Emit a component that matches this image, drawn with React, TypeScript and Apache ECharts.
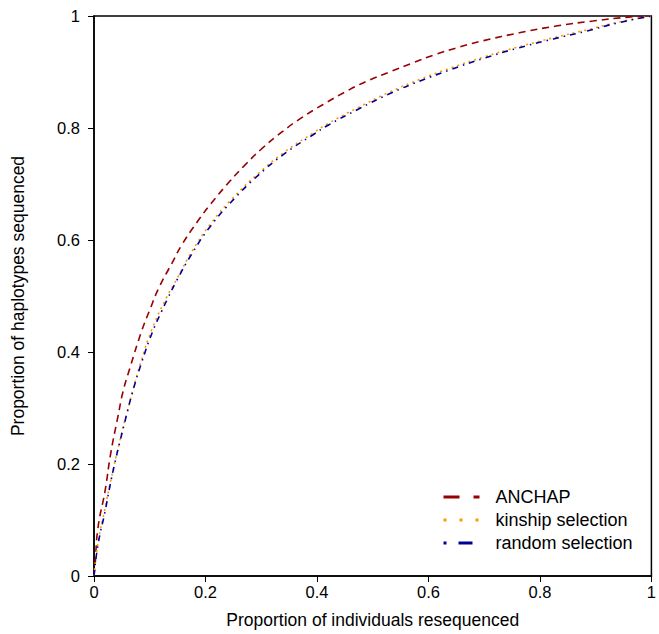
import React, { useEffect, useRef } from "react";
import * as echarts from "echarts";

const seriesNames = ["ANCHAP", "kinship selection", "random selection"];

const anchap: [number, number][] = [
  [0, 0], [0.002, 0.02], [0.007, 0.085], [0.02, 0.153], [0.03, 0.219], [0.043, 0.285],
  [0.052, 0.329], [0.064, 0.37], [0.085, 0.436], [0.1, 0.475], [0.117, 0.516],
  [0.139, 0.557], [0.158, 0.592], [0.185, 0.632], [0.21, 0.665], [0.242, 0.703],
  [0.269, 0.732], [0.301, 0.763], [0.336, 0.792], [0.372, 0.818], [0.411, 0.842],
  [0.45, 0.864], [0.488, 0.883], [0.53, 0.9], [0.571, 0.916], [0.612, 0.931],
  [0.657, 0.945], [0.699, 0.956], [0.763, 0.97], [0.829, 0.982], [0.895, 0.991],
  [0.959, 0.998], [1, 1],
];

const kinship: [number, number][] = [
  [0, 0], [0.007, 0.058], [0.02, 0.122], [0.03, 0.17], [0.045, 0.236], [0.06, 0.295],
  [0.085, 0.385], [0.105, 0.443], [0.13, 0.497], [0.15, 0.533], [0.176, 0.58],
  [0.21, 0.63], [0.25, 0.676], [0.295, 0.719], [0.343, 0.758], [0.393, 0.791],
  [0.42, 0.808], [0.473, 0.836], [0.53, 0.864], [0.585, 0.887], [0.642, 0.908],
  [0.7, 0.927], [0.758, 0.944], [0.824, 0.961], [0.883, 0.975], [0.941, 0.989], [1, 1],
];

const random: [number, number][] = [
  [0, 0], [0.007, 0.055], [0.02, 0.116], [0.028, 0.158], [0.037, 0.2], [0.046, 0.238],
  [0.059, 0.29], [0.069, 0.328], [0.085, 0.38], [0.105, 0.436], [0.121, 0.472],
  [0.132, 0.495], [0.148, 0.527], [0.176, 0.576], [0.21, 0.626], [0.251, 0.673],
  [0.295, 0.716], [0.343, 0.755], [0.393, 0.788], [0.42, 0.805], [0.473, 0.833],
  [0.53, 0.861], [0.585, 0.884], [0.642, 0.905], [0.701, 0.925], [0.758, 0.942],
  [0.824, 0.959], [0.883, 0.973], [0.941, 0.988], [1, 1],
];

const xTicks = [0, 0.2, 0.4, 0.6, 0.8, 1];
const yTicks = [0, 0.2, 0.4, 0.6, 0.8, 1];

const FONT = "Liberation Sans, Arial, sans-serif";
const RED = "#990000";
const ORANGE = "#FF9900";
const BLUE = "#000099";

export default function App() {
  const ref = useRef<HTMLDivElement>(null);
  useEffect(() => {
    if (!ref.current) return;
    const chart = echarts.init(ref.current, undefined, { renderer: "svg" });
    const fmt = (v: number) => String(Number(v.toFixed(1)));
    const hidden = { color: "transparent", opacity: 0, borderWidth: 0 };
    chart.setOption({
      animation: false,
      backgroundColor: "#fff",
      grid: {
        left: 94, right: 3, top: 16, bottom: 56,
        show: true, borderColor: "#000", borderWidth: 1.5, backgroundColor: "transparent",
      },
      legend: {
        orient: "vertical",
        left: 437,
        top: 483,
        itemWidth: 47,
        itemHeight: 14,
        itemGap: 5,
        textStyle: { fontFamily: FONT, fontSize: 18, color: "#000" },
        data: [
          { name: seriesNames[0], itemStyle: hidden, lineStyle: { width: 3, type: [16, 14, 6, 100], color: RED } },
          { name: seriesNames[1], itemStyle: hidden, lineStyle: { width: 3, type: [3, 13, 3, 13, 3, 100], color: ORANGE } },
          { name: seriesNames[2], itemStyle: hidden, lineStyle: { width: 3, type: [3, 12, 14, 100], color: BLUE } },
        ],
      },
      xAxis: {
        type: "value",
        min: xTicks[0],
        max: xTicks[xTicks.length - 1],
        interval: 0.2,
        name: "Proportion of individuals resequenced",
        nameLocation: "middle",
        nameGap: 35,
        nameTextStyle: { fontFamily: FONT, fontSize: 17.5, color: "#000" },
        axisLine: { show: true, lineStyle: { color: "#000", width: 1.5 } },
        axisTick: { show: true, inside: false, length: 6, lineStyle: { color: "#000" } },
        axisLabel: { fontFamily: FONT, fontSize: 16.5, color: "#000", margin: 7, formatter: fmt },
        splitLine: { show: false },
      },
      yAxis: {
        type: "value",
        min: yTicks[0],
        max: yTicks[yTicks.length - 1],
        interval: 0.2,
        name: "Proportion of haplotypes sequenced",
        nameLocation: "middle",
        nameGap: 67,
        nameRotate: 90,
        nameTextStyle: { fontFamily: FONT, fontSize: 17.5, color: "#000" },
        axisLine: { show: true, lineStyle: { color: "#000", width: 1.5 } },
        axisTick: { show: true, inside: false, length: 6, lineStyle: { color: "#000" } },
        axisLabel: { fontFamily: FONT, fontSize: 16.5, color: "#000", margin: 14, formatter: fmt },
        splitLine: { show: false },
      },
      series: [
        {
          name: seriesNames[0], type: "line", data: anchap, showSymbol: false, symbol: "none",
          smooth: 0.5, lineStyle: { color: RED, width: 1.6, type: [7, 5] }, itemStyle: { color: RED },
        },
        {
          name: seriesNames[1], type: "line", data: kinship, showSymbol: false, symbol: "none",
          smooth: 0.5, lineStyle: { color: ORANGE, width: 1.6, type: [2, 4] }, itemStyle: { color: ORANGE },
        },
        {
          name: seriesNames[2], type: "line", data: random, showSymbol: false, symbol: "none",
          smooth: 0.5, lineStyle: { color: BLUE, width: 1.6, type: [6, 5, 1.5, 5] }, itemStyle: { color: BLUE },
        },
      ],
    });
    return () => chart.dispose();
  }, []);
  return (
    <div
      ref={ref}
      style={{ position: "fixed", left: 0, top: 0, width: 659, height: 634, background: "#fff" }}
    />
  );
}
